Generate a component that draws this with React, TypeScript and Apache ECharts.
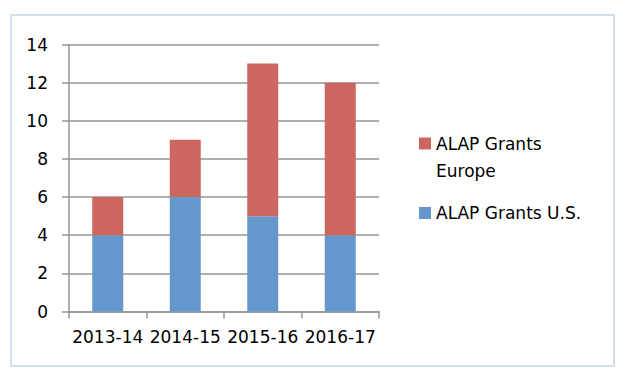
import React, { useEffect, useRef } from "react";
import * as echarts from "echarts";

const categories = ["2013-14", "2014-15", "2015-16", "2016-17"];
const grantsUS = [4, 6, 5, 4];
const grantsEurope = [2, 3, 8, 8];
const seriesNames = ["ALAP Grants Europe", "ALAP Grants U.S."];

const FONT = "DejaVu Sans";

export default function App() {
  const ref = useRef<HTMLDivElement>(null);
  useEffect(() => {
    if (!ref.current) return;
    const chart = echarts.init(ref.current, null, { renderer: "svg" });
    chart.setOption({
      animation: false,
      backgroundColor: "#ffffff",
      textStyle: { fontFamily: FONT },
      graphic: [
        {
          type: "rect",
          shape: { x: 11, y: 15, width: 603, height: 351 },
          style: { fill: "none", stroke: "#D3DDEF", lineWidth: 2 },
          silent: true,
        },
      ],
      grid: { left: 69, right: 249, top: 44.5, bottom: 70.5, containLabel: false },
      legend: [
        {
          data: [seriesNames[0]],
          orient: "vertical",
          left: 419,
          top: 103,
          padding: 0,
          itemWidth: 12,
          itemHeight: 12,
          icon: "rect",
          selectedMode: false,
          formatter: () => " \nALAP Grants\nEurope",
          textStyle: {
            fontFamily: FONT,
            fontSize: 17,
            color: "#000",
            lineHeight: 27,
          },
        },
        {
          data: [seriesNames[1]],
          orient: "vertical",
          left: 419,
          top: 199.5,
          padding: 0,
          itemWidth: 12,
          itemHeight: 12,
          icon: "rect",
          selectedMode: false,
          textStyle: { fontFamily: FONT, fontSize: 17, color: "#000", lineHeight: 27 },
        },
      ],
      xAxis: {
        type: "category",
        data: categories,
        axisLine: { show: true, lineStyle: { color: "#969696", width: 1.5 } },
        axisTick: { show: true, length: 7, lineStyle: { color: "#969696", width: 1.5 } },
        axisLabel: { fontFamily: FONT, fontSize: 17, color: "#000", margin: 17, interval: 0 },
        splitLine: { show: false },
      },
      yAxis: {
        type: "value",
        min: 0,
        max: 14,
        interval: 2,
        axisLine: { show: true, lineStyle: { color: "#969696", width: 1.5 } },
        axisTick: { show: true, length: 7, lineStyle: { color: "#969696", width: 1.5 } },
        axisLabel: { fontFamily: FONT, fontSize: 17, color: "#000", margin: 21 },
        splitLine: { show: true, lineStyle: { color: "#969696", width: 1.5 } },
      },
      series: [
        {
          name: seriesNames[1],
          type: "bar",
          stack: "total",
          data: grantsUS,
          barWidth: 31,
          itemStyle: { color: "#6497CC" },
        },
        {
          name: seriesNames[0],
          type: "bar",
          stack: "total",
          data: grantsEurope,
          barWidth: 31,
          itemStyle: { color: "#CC6660" },
        },
      ],
    });
    return () => chart.dispose();
  }, []);
  return (
    <div
      ref={ref}
      style={{ position: "absolute", left: 0, top: 0, width: 628, height: 382 }}
    />
  );
}
